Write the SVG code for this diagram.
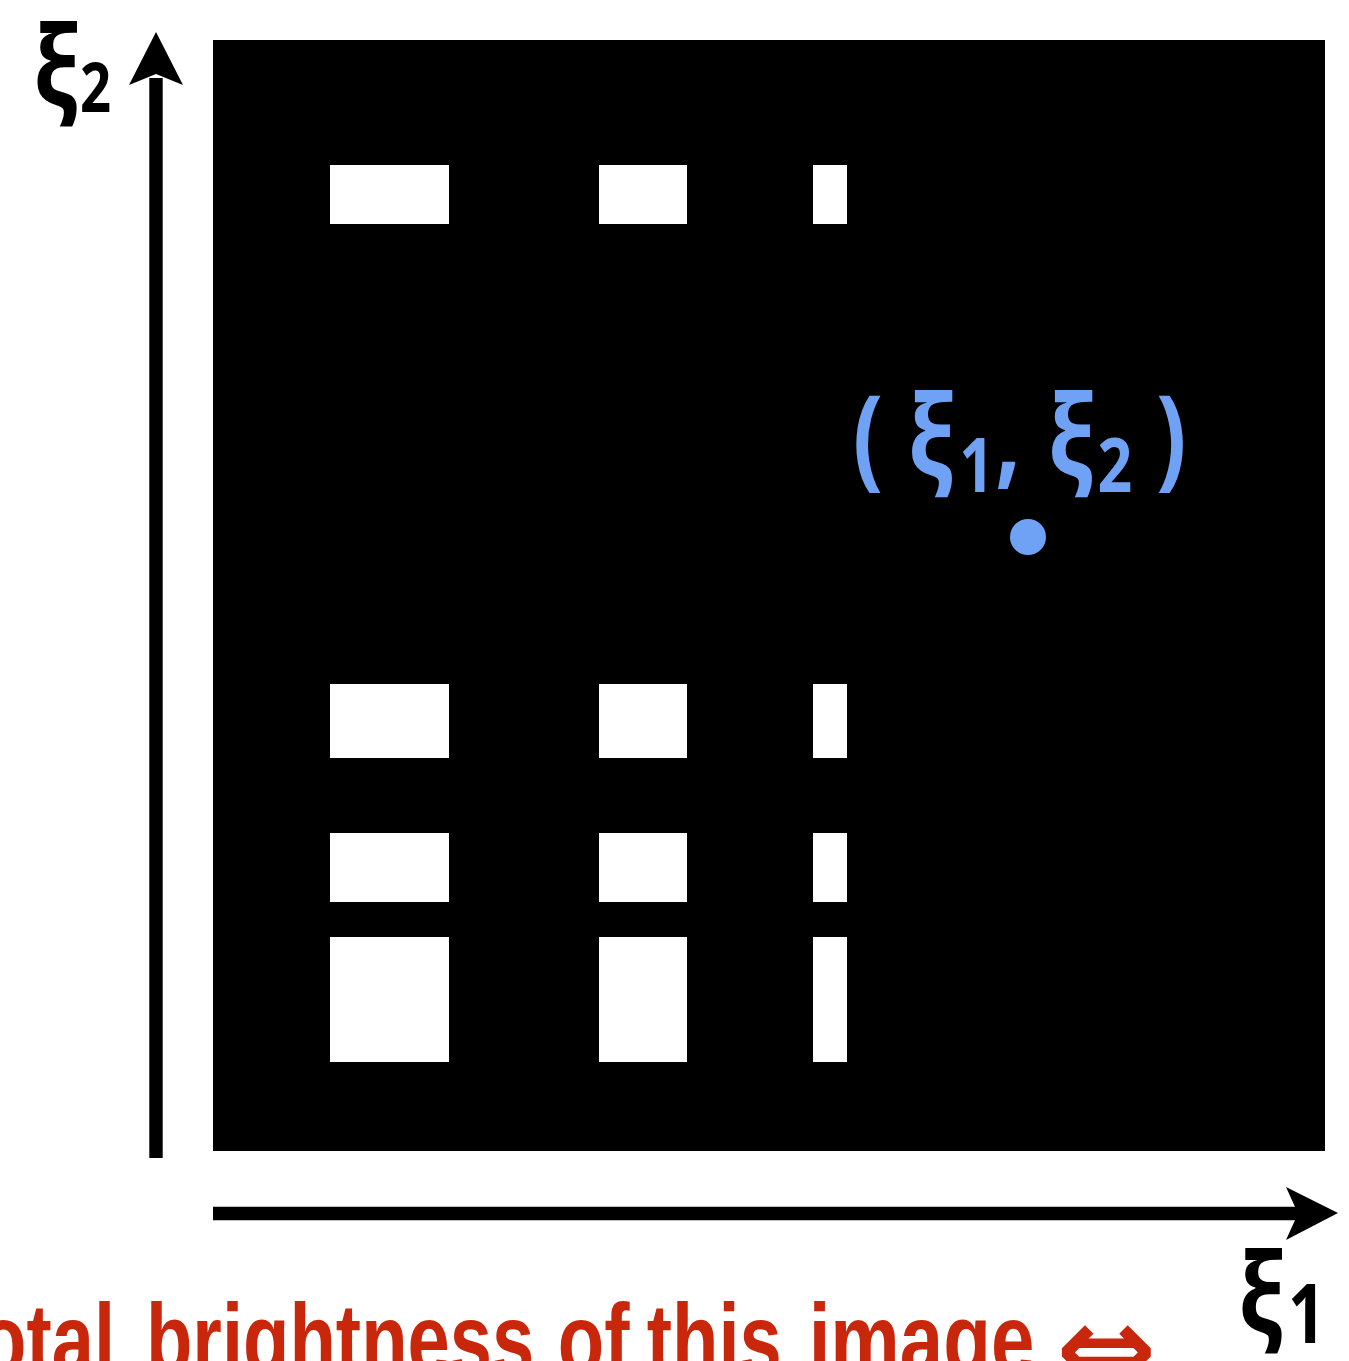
<svg xmlns="http://www.w3.org/2000/svg" width="1349" height="1361" viewBox="0 0 1349 1361">
<style>
.bar{fill:#ffffff;}
.axis{stroke:#000000;stroke-width:13.4;fill:none;}
.head{fill:#000000;}
.lbl{font-family:"Liberation Sans","DejaVu Sans",sans-serif;font-weight:bold;}
.g{font-family:"Noto Sans","Open Sans","DejaVu Sans",sans-serif;font-weight:bold;}
.blue{fill:#6fa2f4;}
.red{fill:#c9270c;}
</style>
<rect width="1349" height="1361" fill="#ffffff"/>
<g id="image">
<rect x="213" y="40" width="1112" height="1111" fill="#000000"/>
<rect class="bar" x="330" y="165" width="119" height="59"/>
<rect class="bar" x="599" y="165" width="88" height="59"/>
<rect class="bar" x="813" y="165" width="34" height="59"/>
<rect class="bar" x="330" y="684" width="119" height="74"/>
<rect class="bar" x="599" y="684" width="88" height="74"/>
<rect class="bar" x="813" y="684" width="34" height="74"/>
<rect class="bar" x="330" y="833" width="119" height="69"/>
<rect class="bar" x="599" y="833" width="88" height="69"/>
<rect class="bar" x="813" y="833" width="34" height="69"/>
<rect class="bar" x="330" y="937" width="119" height="125"/>
<rect class="bar" x="599" y="937" width="88" height="125"/>
<rect class="bar" x="813" y="937" width="34" height="125"/>
</g>
<g id="point">
<circle class="blue" cx="1028" cy="537" r="18"/>
<text class="g blue" font-size="112" transform="scale(0.8,1)"><tspan x="1066" y="475">(</tspan><tspan x="1135" y="475">ξ</tspan><tspan x="1199" y="492" font-size="76">1</tspan><tspan x="1244" y="475">,</tspan><tspan x="1310" y="475">ξ</tspan><tspan x="1372" y="492" font-size="76">2</tspan><tspan x="1445" y="475">)</tspan></text>
</g>
<g id="connectors">
<line class="axis" x1="156" y1="1158" x2="156" y2="78"/>
<path class="head" d="M156,32 L183,85 L156,74 L129,85 Z"/>
<line class="axis" x1="213" y1="1213.5" x2="1300" y2="1213.5"/>
<path class="head" d="M1338,1213 L1286,1187 L1298,1213.5 L1286,1240 Z"/>
</g>
<g id="axis-labels">
<text class="g" font-size="110" transform="scale(0.8,1)"><tspan x="42" y="104">ξ</tspan><tspan x="100" y="112" font-size="68">2</tspan></text>
<text class="g" font-size="110" transform="scale(0.8,1)"><tspan x="1548" y="1331">ξ</tspan><tspan x="1610" y="1343" font-size="82">1</tspan></text>
</g>
<g id="caption">
<text class="lbl red" font-size="100" transform="scale(0.76,1)"><tspan x="-80" y="1374">Total</tspan><tspan x="192" y="1374">brightness</tspan><tspan x="734" y="1374">of</tspan><tspan x="851" y="1374">this</tspan><tspan x="1064" y="1374" textLength="297" lengthAdjust="spacingAndGlyphs">image</tspan></text>
<text class="red" font-family="DejaVu Sans, sans-serif" font-weight="bold" font-size="120" x="1056" y="1390">⇔</text>
</g>
</svg>
